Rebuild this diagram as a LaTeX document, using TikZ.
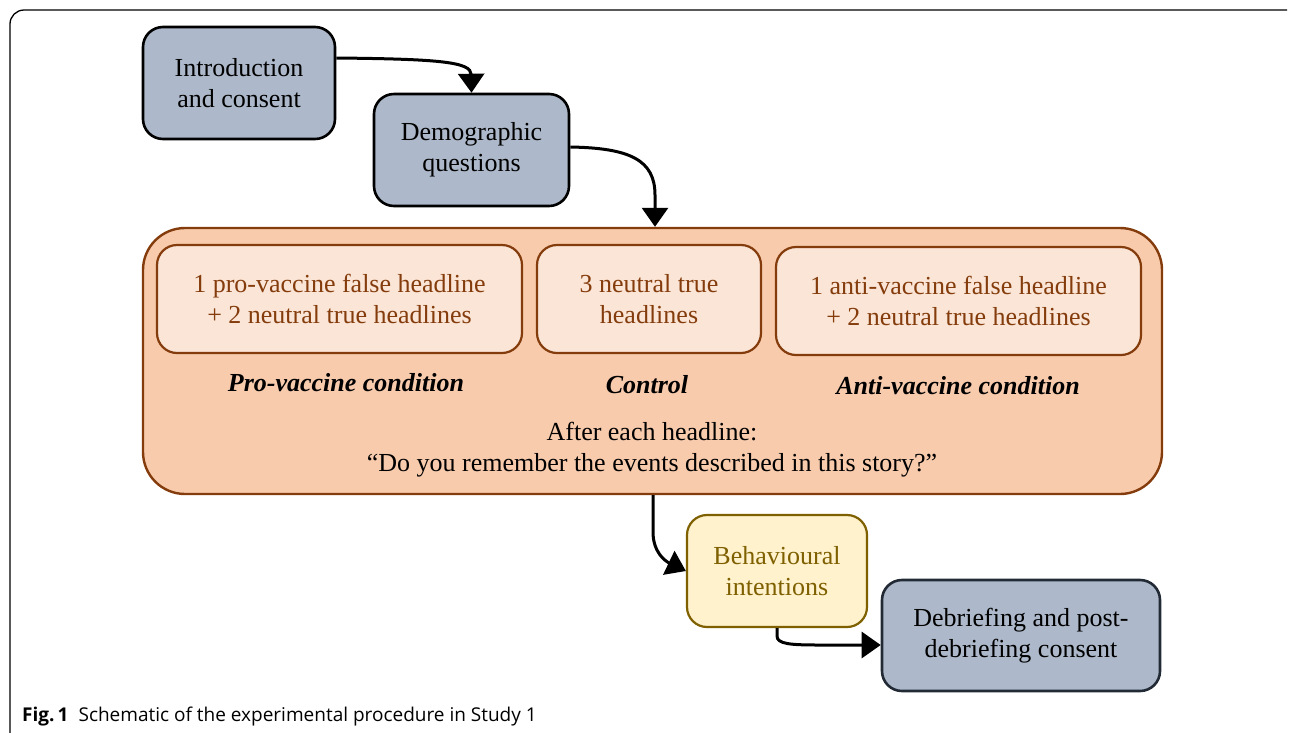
\documentclass[tikz,border=0pt]{standalone}
\usepackage{fontspec}
\setmainfont{Liberation Serif}
\newfontfamily\capfont{Open Sans}
\usetikzlibrary{arrows.meta}
\definecolor{bluegrey}{HTML}{ADB9CA}
\definecolor{darkslate}{HTML}{222A35}
\definecolor{orangefill}{HTML}{F8CBAD}
\definecolor{orangelight}{HTML}{FBE5D6}
\definecolor{brownline}{HTML}{843C0C}
\definecolor{yellowfill}{HTML}{FFF2CC}
\definecolor{goldline}{HTML}{7F6000}
\tikzset{
  x=1pt,y=-1pt,
  every node/.style={font=\fontsize{26}{31}\selectfont, align=center, inner sep=0pt},
  stepbox/.style={draw=black, line width=2.6pt, fill=bluegrey, rounded corners=20pt, minimum width=192pt, minimum height=112pt},
  groupbox/.style={draw=brownline, line width=2.4pt, fill=orangefill, rounded corners=42pt},
  headbox/.style={draw=brownline, line width=2.2pt, fill=orangelight, rounded corners=20pt, text=brownline, minimum height=108pt},
  condlabel/.style={font=\fontsize{26}{31}\selectfont\bfseries\itshape},
  flow/.style={line width=3pt, -{Triangle[length=19pt,width=26pt]}}
}
\begin{document}
\begin{tikzpicture}
\useasboundingbox (0,0) rectangle (1290,732);
% outer frame
\draw[line width=1.3pt] (10,740) -- (10,24) arc[start angle=180,end angle=270,radius=14] -- (1287,10);
% nodes
\node[stepbox] (intro) at (239,83) {Introduction\\and consent};
\node[stepbox, minimum width=195pt] (demo) at (471.5,150) {Demographic\\questions};
\node[groupbox, minimum width=1019pt, minimum height=266pt] (group) at (652.5,361) {};
\node[headbox, minimum width=365pt] (pro) at (339.5,299) {1 pro-vaccine false headline\\+ 2 neutral true headlines};
\node[headbox, minimum width=224pt] (ctrl) at (649,299) {3 neutral true\\headlines};
\node[headbox, minimum width=365pt] (anti) at (958.5,301) {1 anti-vaccine false headline\\+ 2 neutral true headlines};
\node[condlabel] (prolab) at (346,383) {Pro-vaccine condition};
\node[condlabel] (ctrllab) at (647,385) {Control};
\node[condlabel] (antilab) at (958,386) {Anti-vaccine condition};
\node (after) at (652,450) {After each headline:\\``Do you remember the events described in this story?''};
\node[stepbox, draw=goldline, fill=yellowfill, text=goldline, line width=2.2pt, minimum width=180pt] (behav) at (777,571) {Behavioural\\intentions};
\node[stepbox, draw=darkslate, minimum width=278pt, minimum height=111pt] (debrief) at (1021,635.5) {Debriefing and post-\\debriefing consent};
% connectors
\draw[flow] (intro.east |- 0,58) .. controls (440,59) and (471,62) .. (demo.north);
\draw[flow] (demo.east |- 0,147) .. controls (630,148) and (655,160) .. (655,195) -- (group.north -| 655,0);
\draw[flow] (group.south -| 653,0) -- (653,532) .. controls (653,552) and (665,561) .. (behav.west);
\draw[flow] (behav.south) -- (777,636) .. controls (777,644) and (790,645) .. (820,645) -- (debrief.west |- 0,645);
% caption
\node[anchor=west, font=\capfont\fontsize{19}{22}\selectfont] (cap) at (22,716) {\textbf{Fig.\,1}\hspace{10pt}Schematic of the experimental procedure in Study 1};
\end{tikzpicture}
\end{document}
